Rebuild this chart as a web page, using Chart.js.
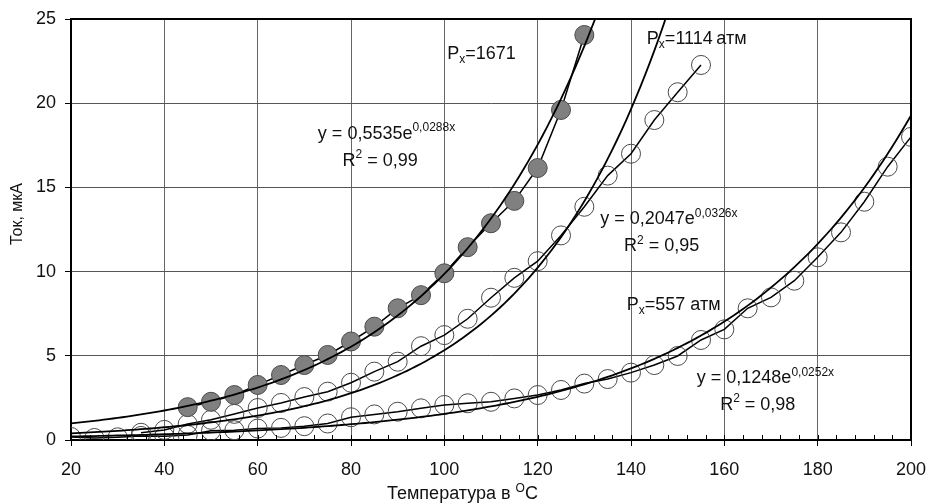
<!DOCTYPE html>
<html>
<head>
<meta charset="utf-8">
<script src="https://cdn.jsdelivr.net/npm/chart.js@4"></script>
<style>
  body { margin: 0; background: #fff; }
  #wrap { width: 928px; height: 504px; }
</style>
</head>
<body>
<div id="wrap"><canvas id="tokGraf"></canvas></div>
<script>
// измерения: температура (°C) и ток (мкА) для трёх давлений
const temp1671 = [45,50,55,60,65,70,75,80,85,90,95,100,105,110,115,120,125,130];
const tok1671  = [1.95,2.27,2.67,3.27,3.86,4.45,5.05,5.85,6.73,7.82,8.6,9.9,11.45,12.87,14.2,16.15,19.6,24.05];

const temp1114 = [35,40,45,50,55,60,65,70,75,80,85,90,95,100,105,110,115,120,125,130,135,140,145,150,155];
const tok1114  = [0.43,0.6,0.95,1.2,1.55,1.9,2.2,2.55,2.87,3.4,4.06,4.65,5.57,6.23,7.2,8.45,9.63,10.62,12.15,13.85,15.7,17.0,19.0,20.65,22.27];

const temp557 = [20,25,30,35,40,45,50,55,60,65,70,75,80,85,90,95,100,105,110,115,120,125,130,135,140,145,150,155,160,165,170,175,180,185,190,195,200];
const tok557  = [0.18,0.12,0.16,0.24,0.22,0.3,0.55,0.58,0.68,0.72,0.82,0.98,1.35,1.52,1.68,1.88,2.08,2.18,2.27,2.47,2.67,2.97,3.35,3.62,4.0,4.45,4.99,5.94,6.57,7.82,8.47,9.46,10.85,12.33,14.15,16.23,18.0];

// экспоненциальные линии тренда y = a*e^(b*x)
const trendA  = [0.5535, 0.2047, 0.1248];
const trendB  = [0.0288, 0.0326, 0.0252];
const trendR2 = [0.99, 0.95, 0.98];
const davlenie = ['1671', '1114\u2009атм', '557 атм'];

const xMin = 20, xMax = 200, xStep = 20;
const yMin = 0, yMax = 25, yStep = 5;

const FONT = '"Liberation Sans", Arial, sans-serif';
const INK = '#111';

function pts(xs, ys) { return xs.map((x, i) => ({ x: x, y: ys[i] })); }

function trendPts(k) {
  const out = [];
  for (let x = xMin; x <= xMax; x += 1) out.push({ x: x, y: trendA[k] * Math.exp(trendB[k] * x) });
  return out;
}

const fmt = (v, d) => v.toFixed(d).replace('.', ',');

// подписи на поле графика: [x, y] в единицах осей, куски текста
const podpisi = [
  { at: [100.6, 22.6], parts: [{ t: 'P' }, { t: 'x', s: 'sub' }, { t: '=' + davlenie[0] }] },
  { at: [72.9, 17.9], parts: [{ t: 'y = ' + fmt(trendA[0], 4) + 'e' }, { t: fmt(trendB[0], 4) + 'x', s: 'sup' }] },
  { at: [78.2, 16.3], parts: [{ t: 'R' }, { t: '2', s: 'sup' }, { t: ' = ' + fmt(trendR2[0], 2) }] },
  { at: [143.4, 23.5], parts: [{ t: 'P' }, { t: 'x', s: 'sub' }, { t: '=' + davlenie[1] }] },
  { at: [133.4, 12.8], parts: [{ t: 'y = ' + fmt(trendA[1], 4) + 'e' }, { t: fmt(trendB[1], 4) + 'x', s: 'sup' }] },
  { at: [138.5, 11.2], parts: [{ t: 'R' }, { t: '2', s: 'sup' }, { t: ' = ' + fmt(trendR2[1], 2) }] },
  { at: [139.1, 7.7], parts: [{ t: 'P' }, { t: 'x', s: 'sub' }, { t: '=' + davlenie[2] }] },
  { at: [154.1, 3.4], parts: [{ t: 'y = ' + fmt(trendA[2], 4) + 'e' }, { t: fmt(trendB[2], 4) + 'x', s: 'sup' }] },
  { at: [159.1, 1.8], parts: [{ t: 'R' }, { t: '2', s: 'sup' }, { t: ' = ' + fmt(trendR2[2], 2) }] }
];

function richText(ctx, x, y, parts, size) {
  let cx = x;
  for (const p of parts) {
    const small = p.s ? Math.round(size * 0.67) : size;
    ctx.font = small + 'px ' + FONT;
    const dy = p.s === 'sup' ? -size * 0.4 : p.s === 'sub' ? size * 0.2 : 0;
    ctx.fillText(p.t, cx, y + dy);
    cx += ctx.measureText(p.t).width;
  }
  return cx - x;
}

const ramka = {
  id: 'ramka',
  afterDatasetsDraw(chart) {
    const { ctx, chartArea: a, scales } = chart;
    const sx = scales.x, sy = scales.y;
    ctx.save();
    // малые деления по оси X
    ctx.strokeStyle = '#000';
    ctx.lineWidth = 1;
    ctx.beginPath();
    for (let t = xMin + 4; t < xMax; t += 4) {
      const px = Math.round(sx.getPixelForValue(t)) + 0.5;
      ctx.moveTo(px, a.bottom);
      ctx.lineTo(px, a.bottom - 5);
    }
    ctx.stroke();
    // верх и правая сторона рамки
    ctx.lineWidth = 2;
    ctx.beginPath();
    ctx.moveTo(a.left, a.top);
    ctx.lineTo(a.right, a.top);
    ctx.lineTo(a.right, a.bottom);
    ctx.stroke();

    ctx.fillStyle = INK;
    ctx.textBaseline = 'alphabetic';
    ctx.textAlign = 'left';
    for (const p of podpisi) {
      richText(ctx, sx.getPixelForValue(p.at[0]), sy.getPixelForValue(p.at[1]), p.parts, 18);
    }

    // подпись оси X с верхним индексом
    richText(ctx, 387, 499, [{ t: 'Температура в ' }, { t: 'O', s: 'sup' }, { t: 'C' }], 18);

    // подпись оси Y
    ctx.translate(22, 214);
    ctx.rotate(-Math.PI / 2);
    ctx.textAlign = 'center';
    ctx.font = '16px ' + FONT;
    ctx.fillText('Ток, мкА', 0, 0);
    ctx.restore();
  }
};

const lineStyle = (data, fill) => ({
  data: data,
  borderColor: '#000',
  borderWidth: 1.5,
  pointRadius: 9.5,
  pointBackgroundColor: fill,
  pointBorderColor: '#4a4a4a',
  pointBorderWidth: 1,
  tension: 0
});

const trendStyle = k => ({
  data: trendPts(k),
  borderColor: '#000',
  borderWidth: 1.8,
  pointRadius: 0,
  tension: 0
});

new Chart(document.getElementById('tokGraf'), {
  type: 'line',
  data: {
    datasets: [
      trendStyle(0), trendStyle(1), trendStyle(2),
      lineStyle(pts(temp1671, tok1671), '#808080'),
      lineStyle(pts(temp1114, tok1114), 'rgba(255,255,255,0)'),
      lineStyle(pts(temp557, tok557), 'rgba(255,255,255,0)')
    ]
  },
  options: {
    responsive: true,
    maintainAspectRatio: false,
    animation: false,
    layout: { padding: { top: 19, right: 17, left: 0, bottom: 0 } },
    plugins: { legend: { display: false }, tooltip: { enabled: false } },
    scales: {
      x: {
        type: 'linear',
        min: xMin, max: xMax,
        afterFit: s => { s.height = 64; s.paddingRight = 0; s.paddingLeft = 0; },
        ticks: { stepSize: xStep, color: INK, padding: 13, font: { family: FONT, size: 18 } },
        grid: { color: '#666', lineWidth: 1, tickLength: 6, tickColor: '#000' },
        border: { color: '#000', width: 2 }
      },
      y: {
        min: yMin, max: yMax,
        afterFit: s => { s.width = 71; s.paddingTop = 0; s.paddingBottom = 0; },
        ticks: { stepSize: yStep, color: INK, padding: 9, font: { family: FONT, size: 18 } },
        grid: { color: '#555', lineWidth: 1, tickLength: 6, tickColor: '#000' },
        border: { color: '#000', width: 2 }
      }
    }
  },
  plugins: [ramka]
});
</script>
</body>
</html>
